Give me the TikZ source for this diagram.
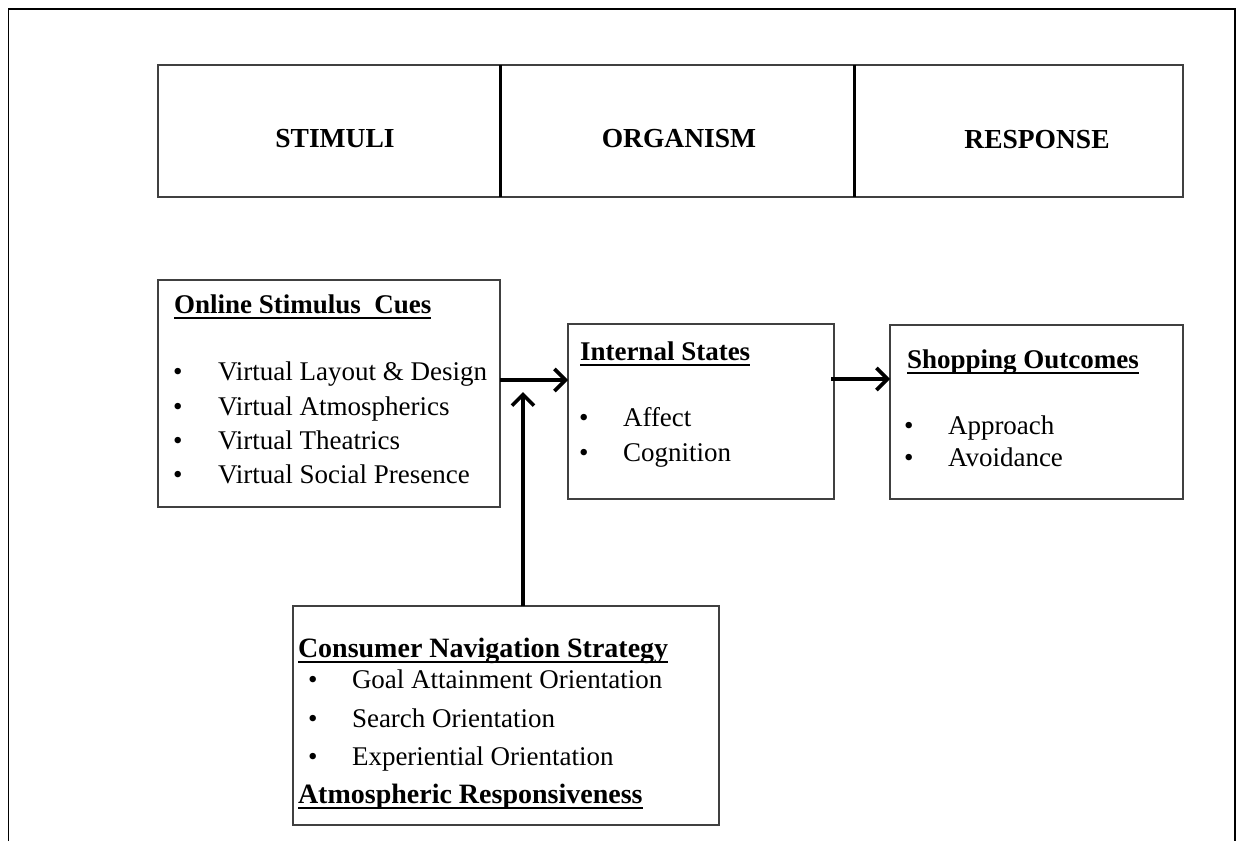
\documentclass[tikz,border=0pt]{standalone}
\usepackage{fontspec}
\setmainfont{Liberation Serif}[BoldFont={Liberation Serif Bold}]
\usetikzlibrary{arrows.meta}
\newcommand\ulbf[1]{\setbox0\hbox{\bfseries #1}\rlap{\rule[-6pt]{\wd0}{1.6pt}}\box0}
\begin{document}
\begin{tikzpicture}[x=1pt,y=-1pt,
  frame/.style={line width=1.4pt,black},
  box/.style={draw=black!75,line width=1.2pt,rectangle,inner sep=0,outer sep=0},
  divider/.style={line width=3pt,black},
  txt/.style={anchor=base west,inner sep=0,outer sep=0,font=\fontsize{27}{34}\selectfont},
  bigtxt/.style={txt,font=\fontsize{28}{34}\selectfont},
  htxt/.style={anchor=base,inner sep=0,outer sep=0,font=\fontsize{27.5}{34}\selectfont\bfseries},
  arr/.style={line width=3.6pt,black,-{Straight Barb[length=11pt,width=22pt,line width=3.6pt]}}]
\useasboundingbox (0,0) rectangle (1236,841);
% outer frame
\draw[frame] (8.5,841) -- (8.5,9) -- (1235,9) -- (1235,841);
% header
\node[box,minimum width=342pt,minimum height=132pt] (h1) at (329,131) {};
\node[box,minimum width=354pt,minimum height=132pt] (h2) at (677,131) {};
\node[box,minimum width=329pt,minimum height=132pt] (h3) at (1018.5,131) {};
\draw[divider] (h1.north east) -- (h1.south east);
\draw[divider] (h2.north east) -- (h2.south east);
\node[htxt] (t1) at (335,147) {STIMULI};
\node[htxt] (t2) at (679,147) {ORGANISM};
\node[htxt] (t3) at (1037,148) {RESPONSE};
% boxes
\node[box,minimum width=342pt,minimum height=227pt] (b1) at (329,393.5) {};
\node[box,minimum width=266pt,minimum height=175pt] (b2) at (701,411.5) {};
\node[box,minimum width=293pt,minimum height=174pt] (b3) at (1036.5,412) {};
\node[box,minimum width=426pt,minimum height=219pt] (b4) at (506,715.5) {};
% box 1 text
\node[txt] (b1t) at (174,313) {\ulbf{Online Stimulus\ \ Cues}};
\foreach \y/\s [count=\i] in {380/{Virtual Layout \& Design},415/{Virtual Atmospherics},449/{Virtual Theatrics},483/{Virtual Social Presence}}{
  \node[txt] (b1b\i) at (173,\y) {•};
  \node[txt] (b1s\i) at (218,\y) {\s};
}
% box 2 text
\node[txt] (b2t) at (580,360) {\ulbf{Internal States}};
\node[txt] (b2b1) at (579,426) {•};
\node[txt] (b2s1) at (623,426) {Affect};
\node[txt] (b2b2) at (579,461) {•};
\node[txt] (b2s2) at (623,461) {Cognition};
% box 3 text
\node[txt] (b3t) at (907,368) {\ulbf{Shopping Outcomes}};
\node[txt] (b3b1) at (904,434) {•};
\node[txt] (b3s1) at (948,434) {Approach};
\node[txt] (b3b2) at (904,466) {•};
\node[txt] (b3s2) at (948,466) {Avoidance};
% box 4 text
\node[bigtxt] (b4t) at (298,657) {\ulbf{Consumer Navigation Strategy}};
\foreach \y/\s [count=\i] in {688/{Goal Attainment Orientation},727/{Search Orientation},765/{Experiential Orientation}}{
  \node[txt] (b4b\i) at (308,\y) {•};
  \node[txt] (b4s\i) at (352,\y) {\s};
}
\node[bigtxt] (b4u) at (298,803) {\ulbf{Atmospheric Responsiveness}};
% connectors
\coordinate (r1) at (0,380);
\coordinate (r2) at (0,379);
\coordinate (vt) at (523,392);
\draw[arr] (b1.east |- r1) -- (b2.west |- r1);
\draw[arr] ([xshift=-3pt]b2.east |- r2) -- (b3.west |- r2);
\draw[arr] (b4.north -| vt) -- (vt);
\end{tikzpicture}
\end{document}
